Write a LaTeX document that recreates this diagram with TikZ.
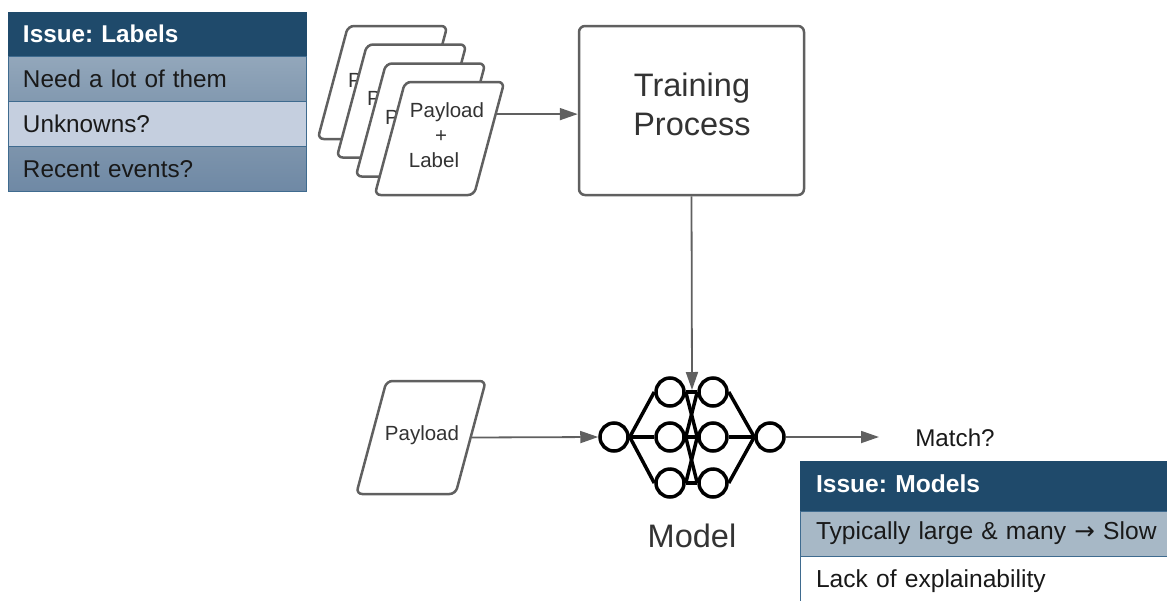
\documentclass[tikz,border=0pt]{standalone}
\usepackage{fontspec}
\setmainfont{Liberation Sans}
\newfontfamily\arrowfont{DejaVu Sans}
\frenchspacing
\usetikzlibrary{arrows.meta, shapes.geometric}

\definecolor{boxgray}{HTML}{606060}
\definecolor{inkgray}{HTML}{333333}
\definecolor{headblue}{HTML}{1F4A6B}
\definecolor{rowline}{HTML}{3F6B8F}
\definecolor{lotstop}{HTML}{93A7BB}
\definecolor{lotsend}{HTML}{8299B0}
\definecolor{paleblue}{HTML}{C5CFDF}
\definecolor{recenttop}{HTML}{7D94AC}
\definecolor{recentend}{HTML}{6F89A5}
\definecolor{slowblue}{HTML}{A7B8C6}

\tikzset{
    card/.style={trapezium, trapezium left angle=75, trapezium right angle=105,
        draw=boxgray, line width=2.5pt, fill=white, rounded corners=6pt, text width=69pt, text height=113pt,
        text depth=0pt, inner sep=0pt},
    hint/.style={text=inkgray, inner sep=0pt, align=center, font=\fontsize{20.5}{25}\selectfont},
    big/.style={text=inkgray, align=center, inner sep=0pt, font=\fontsize{32.5}{39}\selectfont},
    flow/.style={draw=boxgray, line width=1.8pt, -{Triangle[length=18pt, width=12pt]}},
    neuron/.style={circle, draw=black, line width=3.5pt, fill=white, minimum size=28pt, inner sep=0pt},
    wire/.style={draw=black, line width=3.5pt},
    row/.style={draw=rowline, line width=1pt, anchor=north west, inner ysep=0pt,
        outer sep=0pt, align=left, text=black!90},
    rowa/.style={row, inner xsep=15pt, text width=268pt, minimum height=45pt, text height=17pt, text depth=0pt,
        font=\fontsize{24.3}{30}\selectfont},
    rowb/.style={row, inner xsep=16pt, text width=370pt, minimum height=45pt, text height=17pt, text depth=5pt,
        font=\fontsize{24.6}{30}\selectfont},
    head/.style={fill=headblue, draw=headblue, text=white}
}

\begin{document}
\begin{tikzpicture}[x=1pt, y=-1pt]
    \useasboundingbox (0, 0) rectangle (1167, 600);

    % left table
    \node[rowa, head, minimum height=44pt] (labels) at (8, 12) {\bfseries Issue: Labels};
    \node[rowa, top color=lotstop, bottom color=lotsend] (lots) at (8, 56) {Need a lot of them};
    \node[rowa, fill=paleblue] (unknowns) at (8, 101) {Unknowns?};
    \node[rowa, top color=recenttop, bottom color=recentend] (recent) at (8, 146) {Recent events?};

    % stack of cards
    \node[card] (card1) at (382.5, 82.5) {};
    \node[hint] (p1) at (355, 80) {P};
    \node[card] (card2) at (401.5, 101) {};
    \node[hint] (p2) at (374, 98) {P};
    \node[card] (card3) at (420.5, 120) {};
    \node[hint] (p3) at (392, 117) {P};
    \node[card] (card4) at (439.5, 138.5) {};
    \node[hint] (cardtext) at (441, 135) {\hspace*{12pt}Payload\\+\\Label\hspace*{14pt}};

    \node[draw=boxgray, line width=2.5pt, rounded corners=6pt, minimum width=225pt, minimum height=169pt] (train) at (691.5, 110.5) {};
    \node[big] (traintext) at (692, 104.5) {Training\\Process};
    \draw[flow] (card4.23.5) -- (card4.23.5 -| train.west);

    % network
    \node[neuron] (in) at (614, 437) {};
    \node[neuron] (a1) at (670, 392) {};
    \node[neuron] (a2) at (670, 437) {};
    \node[neuron] (a3) at (670, 483) {};
    \node[neuron] (b1) at (713, 392) {};
    \node[neuron] (b2) at (713, 437) {};
    \node[neuron] (b3) at (713, 483) {};
    \node[neuron] (out) at (770, 437) {};
    \foreach \i in {1,2,3} {
        \draw[wire] (in.east) -- (a\i.west);
        \draw[wire] (b\i.east) -- (out.west);
        \draw[wire] (a\i.east) -- (b\i.west);
    }
    \foreach \i/\j in {1/2,2/1,2/3,3/2}
        \draw[wire] (a\i.east) -- (b\j.west);
    \node[big] (model) at (692, 536) {Model};

    \coordinate (nettop) at (692, 390);
    \draw[flow] (train.south) -- (nettop);

    \node[card] (payload) at (421, 437.5) {};
    \node[hint] (payloadtext) at (422, 435) {Payload};
    \draw[flow] (payload.east) -- (in.west);

    \node[text=black!90, inner sep=0pt, font=\fontsize{24.2}{30}\selectfont] (match) at (955, 438) {Match?};
    \coordinate (matchin) at (879, 437);
    \draw[flow] (out.east) -- (matchin);

    % right table
    \node[rowb, head, minimum height=50pt] (models) at (800, 461) {\bfseries Issue: Models};
    \node[rowb, fill=slowblue] (slow) at (800, 511) {Typically large \& many {\arrowfont →} Slow};
    \node[rowb, fill=white, minimum height=50pt] (explain) at (800, 556) {Lack of explainability};
\end{tikzpicture}
\end{document}
